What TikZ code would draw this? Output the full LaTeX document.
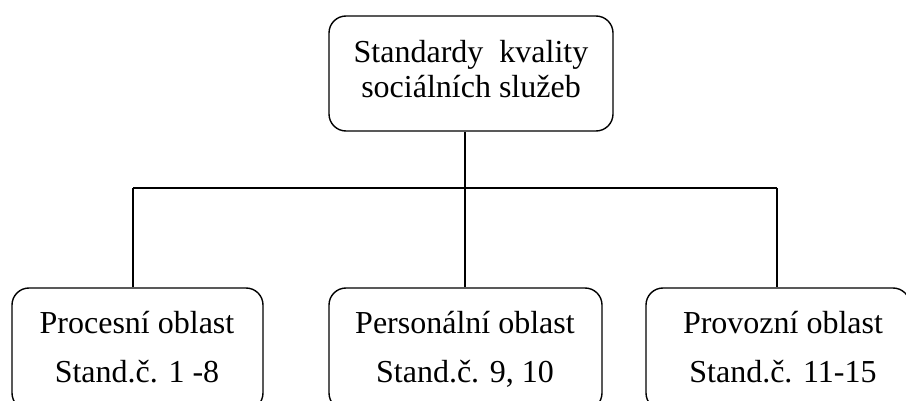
\documentclass[tikz,border=0pt]{standalone}
\usepackage{fontspec}
\setmainfont{Liberation Serif}
\begin{document}
\begin{tikzpicture}[x=1pt,y=-1pt,
  box/.style={draw, line width=1.4pt, rounded corners=17pt, inner sep=0pt},
  txt/.style={anchor=base, inner sep=0pt, font=\fontsize{32}{38}\selectfont},
  conn/.style={line width=1.4pt}]
\useasboundingbox (0,0) rectangle (906,401);
\clip (0,0) rectangle (906,401);
% boxes
\node[box, minimum width=284pt, minimum height=115pt] (top) at (471,73.5) {};
\node[box, minimum width=251pt, minimum height=122pt] (left) at (137.5,349) {};
\node[box, minimum width=273pt, minimum height=122pt] (mid) at (465.5,349) {};
\node[box, minimum width=264pt, minimum height=122pt] (right) at (778,349) {};
% texts
\node[txt] (t1) at (471,63) {Standardy~ kvality};
\node[txt] (t2) at (471,98) {sociálních služeb};
\node[txt] (l1) at (137,333) {Procesní oblast};
\node[txt] (l2) at (137,382) {Stand.č. 1 -8};
\node[txt] (m1) at (465,333) {Personální oblast};
\node[txt] (m2) at (465,382) {Stand.č. 9, 10};
\node[txt] (r1) at (783,333) {Provozní oblast};
\node[txt] (r2) at (783,382) {Stand.č. 11-15};
% connectors
\coordinate (busL) at (133,188);
\coordinate (busM) at (465,188);
\coordinate (busR) at (777,188);
\draw[conn] (busM |- top.south) -- (busM);
\draw[conn] (busL) -- (busR);
\draw[conn] (busL) -- (busL |- left.north);
\draw[conn] (busM) -- (busM |- mid.north);
\draw[conn] (busR) -- (busR |- right.north);
\end{tikzpicture}
\end{document}
